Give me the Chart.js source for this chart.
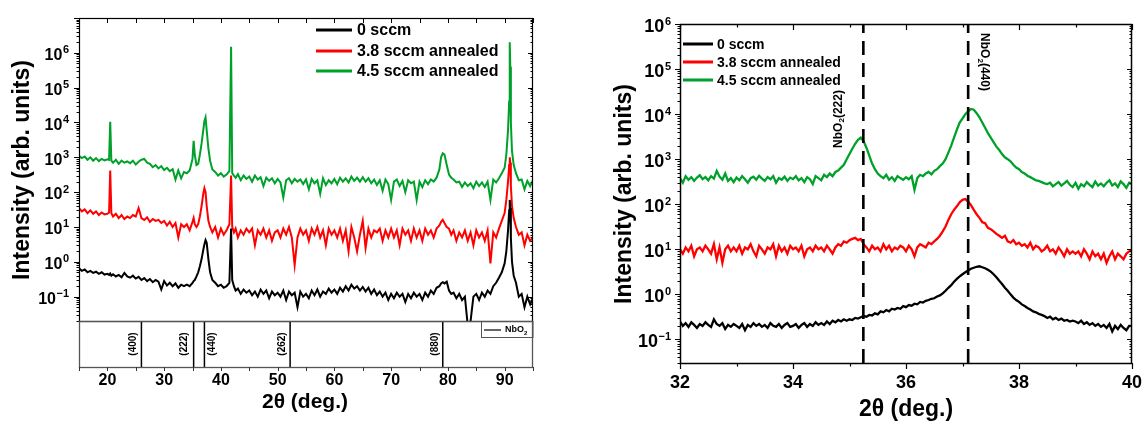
<!DOCTYPE html>
<html><head><meta charset="utf-8">
<script src="https://cdn.jsdelivr.net/npm/chart.js@4/dist/chart.umd.min.js"></script>
<style>
html,body{margin:0;padding:0;background:#fff;width:1142px;height:421px;overflow:hidden}
canvas{position:absolute;left:0;top:0}
</style></head>
<body>
<canvas id="c1" width="1142" height="421"></canvas>
<canvas id="c2" width="1142" height="421"></canvas>
<canvas id="c3" width="1142" height="421"></canvas>
<script>
// ---------------- DATA ----------------
const seriesNames = ['0 sccm', '3.8 sccm annealed', '4.5 sccm annealed'];

// Left panel (wide scan), 2θ in degrees
const xsL = [
15,15.5,16,16.5,17,17.5,18,18.5,19,19.5,
20,20.3,20.5,20.7,21,21.5,22,22.5,23,23.5,
24,24.5,25,25.5,26,26.5,27,27.5,28,28.5,
29,29.5,30,30.5,31,31.5,32,32.5,33,33.5,
34,34.5,35,35.2,35.4,35.7,36,36.3,36.6,36.9,
37.1,37.3,37.5,37.8,38.1,38.5,39,39.5,40,40.5,
41,41.5,41.8,42,42.3,42.6,43,43.5,44,44.5,
45,45.5,46,46.5,47,47.5,48,48.5,49,49.5,
50,50.5,51,51.5,52,52.5,53,53.5,54,54.5,
55,55.5,56,56.5,57,57.5,58,58.5,59,59.5,
60,60.5,61,61.5,62,62.5,63,63.5,64,64.5,
65,65.5,66,66.5,67,67.5,68,68.5,69,69.5,
70,70.5,71,71.5,72,72.5,73,73.5,74,74.5,
75,75.5,76,76.5,77,77.5,78,78.5,78.8,79.1,
79.4,79.8,80.2,80.6,81,81.5,82,82.5,83,83.5,
84,84.5,85,85.5,86,86.5,87,87.5,88,88.5,
89,89.5,90,90.3,90.6,90.8,90.9,91,91.1,91.3,
91.6,92,92.5,93,93.5,94,94.5,95];

const green45L = [
1100,950,1050,850,1000,800,950,780,900,820,
880,850,10500,800,700,850,650,800,700,760,
680,800,620,750,850,900,700,650,520,600,
480,560,430,500,400,460,230,420,250,380,
350,420,900,3000,1200,600,650,1200,2500,6000,
11000,14000,6000,1800,800,450,380,300,350,280,
320,400,1500000,350,300,260,330,220,300,240,
280,200,300,230,270,150,260,210,250,180,
240,190,70,220,250,180,240,200,230,170,
230,120,240,180,220,90,250,160,220,180,
240,170,260,200,250,190,280,210,260,200,
270,200,250,180,230,160,220,110,230,170,
60,200,230,150,210,100,220,180,200,60,
200,140,220,170,230,200,260,450,1000,1300,
1200,600,320,260,230,190,200,140,190,150,
180,130,200,150,190,140,200,60,230,190,
250,350,500,1200,6000,40000,2000000,400000,10000,1500,
600,350,220,230,120,210,150,220];

const red38L = [
35,28,32,25,30,24,28,22,26,23,
24,26,420,25,20,24,18,22,17,20,
18,22,20,35,18,16,19,14,17,15,
16,13,15,11,14,10,13,5,12,10,
12,8,14,18,12,10,12,20,40,90,
130,100,40,15,10,7,10,5,9,6,
8,12,300,10,7,9,5,8,6,9,
7,9,3,8,6,9,5,8,4,7,
8,5,9,6,10,5,0.8,5,9,6,
8,4,9,6,10,5,8,3,9,6,
8,5,9,4,8,2,10,5,2,6,
15,2.5,9,5,8,7,9,4,8,5,
9,5,8,3,9,6,8,4,9,5,
8,4,9,6,8,5,9,11,14,16,
13,10,9,6,8,4,7,5,8,4,
7,3,8,5,7,4,8,0.9,7,5,
9,15,25,60,200,600,1000,700,150,40,
18,10,6,7,3,6,4,5];

const black0L = [
0.65,0.55,0.6,0.5,0.55,0.48,0.52,0.45,0.5,0.43,
0.45,0.42,0.46,0.4,0.44,0.38,0.42,0.36,0.48,0.38,
0.35,0.4,0.33,0.37,0.3,0.34,0.28,0.32,0.26,0.3,
0.27,0.16,0.28,0.21,0.25,0.2,0.24,0.18,0.22,0.2,
0.22,0.2,0.25,0.28,0.3,0.38,0.5,0.75,1.2,2.2,
3.2,4.2,3.5,1.2,0.5,0.3,0.25,0.2,0.22,0.18,
0.2,0.25,9,0.3,0.2,0.15,0.17,0.12,0.16,0.13,
0.15,0.11,0.14,0.1,0.16,0.12,0.15,0.09,0.14,0.11,
0.13,0.1,0.15,0.08,0.14,0.11,0.13,0.05,0.14,0.1,
0.12,0.09,0.15,0.11,0.16,0.1,0.14,0.12,0.17,0.13,
0.16,0.12,0.18,0.14,0.2,0.15,0.22,0.17,0.2,0.15,
0.19,0.14,0.18,0.12,0.16,0.11,0.14,0.1,0.13,0.08,
0.12,0.09,0.13,0.1,0.12,0.07,0.12,0.09,0.13,0.1,
0.12,0.08,0.13,0.1,0.15,0.12,0.18,0.2,0.24,0.26,
0.24,0.27,0.15,0.12,0.13,0.09,0.12,0.08,0.1,0.015,
0.02,0.1,0.12,0.08,0.13,0.1,0.15,0.12,0.2,0.25,
0.35,0.5,0.9,2,8,30,60,35,5,1,
0.4,0.25,0.1,0.12,0.05,0.1,0.06,0.09];

// NbO2 reference pattern (lower strip of the left panel)
const stickPos = [26.0, 35.2, 37.1, 52.2, 79.1];
const stickLabels = ['(400)', '(222)', '(440)', '(262)', '(880)'];

// Right panel (zoomed scan)
const xsR = [
32,32.05,32.1,32.15,32.2,32.25,32.3,32.35,32.4,32.45,
32.5,32.55,32.6,32.65,32.7,32.75,32.8,32.85,32.9,32.95,
33,33.05,33.1,33.15,33.2,33.25,33.3,33.35,33.4,33.45,
33.5,33.55,33.6,33.65,33.7,33.75,33.8,33.85,33.9,33.95,
34,34.05,34.1,34.15,34.2,34.25,34.3,34.35,34.4,34.45,
34.5,34.55,34.6,34.65,34.7,34.75,34.8,34.85,34.9,34.95,
35,35.05,35.1,35.15,35.2,35.25,35.3,35.35,35.4,35.45,
35.5,35.55,35.6,35.65,35.7,35.75,35.8,35.85,35.9,35.95,
36,36.05,36.1,36.15,36.2,36.25,36.3,36.35,36.4,36.45,
36.5,36.55,36.6,36.65,36.7,36.75,36.8,36.85,36.9,36.95,
37,37.05,37.1,37.15,37.2,37.25,37.3,37.35,37.4,37.45,
37.5,37.55,37.6,37.65,37.7,37.75,37.8,37.85,37.9,37.95,
38,38.05,38.1,38.15,38.2,38.25,38.3,38.35,38.4,38.45,
38.5,38.55,38.6,38.65,38.7,38.75,38.8,38.85,38.9,38.95,
39,39.05,39.1,39.15,39.2,39.25,39.3,39.35,39.4,39.45,
39.5,39.55,39.6,39.65,39.7,39.75,39.8,39.85,39.9,39.95,
40];

const green45R = [
380,300,420,350,400,330,390,440,360,400,
340,420,370,550,410,350,480,330,380,310,
390,340,420,360,300,380,410,350,430,370,
330,400,360,420,300,380,350,410,330,390,
360,420,340,380,310,400,360,280,420,380,
340,450,400,480,420,520,560,650,750,1000,
1300,1700,2200,2700,3000,2500,1800,1200,800,600,
480,420,380,450,350,400,330,420,380,350,
400,360,420,210,380,450,420,480,520,460,
550,600,700,800,1000,1400,2000,3000,4500,6500,
8000,10000,11500,13000,12500,10500,8500,6500,5000,3800,
3000,2400,1900,1600,1300,1100,1000,900,750,650,
600,520,480,430,400,370,340,330,310,290,
280,300,250,280,310,260,290,330,270,240,
300,220,280,250,310,270,240,320,260,290,
250,300,340,260,290,240,320,280,230,300,
280];

const red38R = [
10,8,11,9,12,7,10,11,9,12,
10,8,13,6,11,5,10,12,9,11,
9,12,8,11,10,13,9,7,12,10,
8,11,10,13,7,12,9,11,8,12,
10,11,9,12,7,10,11,9,12,10,
11,9,12,10,8,11,13,12,15,14,
16,17,18,16,17,13,11,9,12,10,
11,9,13,10,12,9,11,10,12,11,
9,12,10,7,11,13,12,11,14,13,
15,17,20,25,32,45,60,75,90,110,
125,130,115,95,75,60,50,40,38,30,
28,25,22,20,18,20,15,14,16,13,
14,12,13,11,14,10,12,11,9,10,
12,9,10,8,11,9,7,10,8,9,
8,9,7,10,8,6,9,7,8,6,
8,5,7,9,6,8,7,6,8,9,
10];

const black0R = [
0.25,0.2,0.23,0.19,0.24,0.21,0.18,0.22,0.2,0.24,
0.21,0.19,0.28,0.22,0.2,0.23,0.17,0.21,0.19,0.22,
0.2,0.18,0.22,0.16,0.21,0.19,0.23,0.2,0.22,0.19,
0.21,0.18,0.23,0.2,0.19,0.22,0.18,0.21,0.23,0.19,
0.2,0.22,0.18,0.21,0.23,0.19,0.22,0.2,0.24,0.21,
0.23,0.21,0.25,0.22,0.26,0.24,0.27,0.25,0.28,0.26,
0.28,0.27,0.3,0.29,0.31,0.33,0.32,0.35,0.34,0.38,
0.36,0.42,0.4,0.45,0.42,0.48,0.46,0.5,0.48,0.55,
0.52,0.58,0.56,0.62,0.6,0.68,0.66,0.72,0.75,0.8,
0.82,0.9,0.95,1.05,1.2,1.4,1.6,1.9,2.2,2.5,
2.8,3.1,3.4,3.7,3.9,4.1,4.2,4.0,3.8,3.5,
3.2,2.8,2.4,2.0,1.7,1.4,1.2,1.0,0.85,0.75,
0.68,0.6,0.55,0.5,0.46,0.42,0.4,0.37,0.35,0.33,
0.3,0.32,0.28,0.3,0.27,0.29,0.26,0.27,0.25,0.26,
0.25,0.23,0.26,0.22,0.24,0.21,0.23,0.2,0.22,0.19,
0.21,0.18,0.22,0.15,0.2,0.17,0.21,0.18,0.16,0.2,
0.2];

const dashPos = [35.245, 37.1];
const dashLabels = [['NbO', '2', '(222)'], ['NbO', '2', '(440)']];

// tick labels
const xTickLabelsL = [20, 30, 40, 50, 60, 70, 80, 90];
const xTickMarksL = [15, 20, 25, 30, 35, 40, 45, 50, 55, 60, 65, 70, 75, 80, 85, 90, 95];
const xTickLabelsR = [32, 34, 36, 38, 40];
const xTickMarksR = [32, 33, 34, 35, 36, 37, 38, 39, 40];
const yExpL = [-1, 0, 1, 2, 3, 4, 5, 6];
const yExpR = [-1, 0, 1, 2, 3, 4, 5, 6];

// ---------------- STYLE / HELPERS ----------------
const FF = '"Liberation Sans", Arial, Helvetica, sans-serif';
const COLORS = ['#000000', '#ff0000', '#00a12a'];
const STICK_LABEL_DX = [-8, -9, 8, -8, -8];

function ds(label, xs, ys, color, w, extra) {
  return Object.assign({
    label, data: xs.map((x, i) => ({x: x, y: ys[i]})),
    borderColor: color, backgroundColor: color, borderWidth: w,
    pointRadius: 0, tension: 0, fill: false
  }, extra || {});
}
function logTickList(min, max) {
  const out = [];
  for (let e = -3; e <= 7; e++) for (let m = 1; m <= 9; m++) {
    const v = m * Math.pow(10, e);
    if (v >= min * 0.999 && v <= max * 1.001) out.push({v, major: m === 1});
  }
  return out;
}
function yTicks(ctx, y, a, min, max, maj, mnr) {
  ctx.beginPath();
  for (const t of logTickList(min, max)) {
    const py = Math.round(y.getPixelForValue(t.v)) + 0.5;
    const L = t.major ? maj : mnr;
    ctx.moveTo(a.left, py); ctx.lineTo(a.left - L, py);
    ctx.moveTo(a.right, py); ctx.lineTo(a.right - L, py);
  }
  ctx.stroke();
}
function powLabel(ctx, exp, xr, y, fs, ss) {
  const sup = String(exp).replace('-', '\u2212');
  ctx.font = 'bold ' + ss + 'px ' + FF; const sw = ctx.measureText(sup).width;
  ctx.font = 'bold ' + fs + 'px ' + FF; const bw = ctx.measureText('10').width;
  ctx.textAlign = 'left'; ctx.textBaseline = 'alphabetic';
  const x0 = xr - sw - bw - 0.5;
  ctx.fillText('10', x0, y + 1.5 + fs * 0.36);
  ctx.font = 'bold ' + ss + 'px ' + FF;
  ctx.fillText(sup, x0 + bw + 0.5, y + 0.5);
}
function chemLabel(ctx, parts, cx, cy, rot, fs) {
  ctx.save();
  ctx.translate(cx, cy); ctx.rotate(rot);
  const sub = Math.round(fs * 0.7);
  ctx.font = 'bold ' + fs + 'px ' + FF; const w1 = ctx.measureText(parts[0]).width;
  const w3 = ctx.measureText(parts[2]).width;
  ctx.font = 'bold ' + sub + 'px ' + FF; const w2 = ctx.measureText(parts[1]).width;
  const tot = w1 + w2 + w3;
  let x = -tot / 2;
  ctx.textAlign = 'left'; ctx.textBaseline = 'middle';
  ctx.font = 'bold ' + fs + 'px ' + FF; ctx.fillText(parts[0], x, 0); x += w1;
  ctx.font = 'bold ' + sub + 'px ' + FF; ctx.fillText(parts[1], x, fs * 0.3); x += w2;
  ctx.font = 'bold ' + fs + 'px ' + FF; ctx.fillText(parts[2], x, 0);
  ctx.restore();
}
function vText(ctx, txt, cx, cy, fs) {
  ctx.save(); ctx.translate(cx, cy); ctx.rotate(-Math.PI / 2);
  ctx.font = 'bold ' + fs + 'px ' + FF; ctx.textAlign = 'center'; ctx.textBaseline = 'middle';
  ctx.fillText(txt, 0, 0); ctx.restore();
}
function legend(ctx, x0, x1, tx, ys, fs, lw) {
  [0, 1, 2].forEach((k, i) => {
    ctx.strokeStyle = COLORS[k]; ctx.lineWidth = lw;
    ctx.beginPath(); ctx.moveTo(x0, ys[i]); ctx.lineTo(x1, ys[i]); ctx.stroke();
    ctx.fillStyle = '#000'; ctx.font = 'bold ' + fs + 'px ' + FF;
    ctx.textAlign = 'left'; ctx.textBaseline = 'middle';
    ctx.fillText(seriesNames[k], tx, ys[i] + 1);
  });
}
const baseOpts = (pad, xmin, xmax, ytype, ymin, ymax) => ({
  responsive: false, animation: false, devicePixelRatio: 1,
  layout: {padding: pad},
  plugins: {legend: {display: false}, tooltip: {enabled: false}, title: {display: false}},
  scales: {
    x: {type: 'linear', min: xmin, max: xmax, display: false},
    y: {type: ytype, min: ymin, max: ymax, display: false}
  }
});

// ---------------- LEFT MAIN PANEL ----------------
const YL_MIN = 0.02, YL_MAX = 1e7;
new Chart(document.getElementById('c1'), {
  type: 'line',
  data: {datasets: [
    ds(seriesNames[0], xsL, black0L, COLORS[0], 2),
    ds(seriesNames[1], xsL, red38L, COLORS[1], 2),
    ds(seriesNames[2], xsL, green45L, COLORS[2], 2)
  ]},
  options: baseOpts({left: 79, top: 18, right: 609, bottom: 100}, 15, 95, 'logarithmic', YL_MIN, YL_MAX),
  plugins: [{
    id: 'decoL',
    afterDraw(chart) {
      const {ctx, chartArea: a, scales: {x, y}} = chart;
      ctx.save();
      ctx.strokeStyle = '#000'; ctx.lineWidth = 1.2;
      ctx.strokeRect(a.left + 0.5, a.top + 0.5, a.right - a.left - 1, a.bottom - a.top);
      ctx.lineWidth = 1;
      yTicks(ctx, y, a, YL_MIN, YL_MAX, 5, 2.5);
      ctx.beginPath();
      for (const v of xTickMarksL) {
        const px = Math.round(x.getPixelForValue(v)) + 0.5;
        ctx.moveTo(px, a.top); ctx.lineTo(px, a.top + 5);
      }
      ctx.stroke();
      ctx.fillStyle = '#000';
      for (const e of yExpL) powLabel(ctx, e, 69, y.getPixelForValue(Math.pow(10, e)), 16, 11);
      vText(ctx, 'Intensity (arb. units)', 23, 170, 23);
      legend(ctx, 316, 352, 357, [30, 51, 71], 16, 3);
      ctx.restore();
    }
  }]
});

// ---------------- LEFT REFERENCE STRIP ----------------
new Chart(document.getElementById('c2'), {
  type: 'line',
  data: {datasets: stickPos.map((p, i) => ({
    label: 'NbO2 ' + stickLabels[i], data: [{x: p, y: 0}, {x: p, y: 1}],
    borderColor: '#000', borderWidth: 1.5, pointRadius: 0, fill: false
  }))},
  options: baseOpts({left: 79, top: 321, right: 609, bottom: 54}, 15, 95, 'linear', 0, 1),
  plugins: [{
    id: 'decoStrip',
    afterDraw(chart) {
      const {ctx, chartArea: a, scales: {x}} = chart;
      ctx.save();
      ctx.strokeStyle = '#555'; ctx.lineWidth = 1.3;
      ctx.strokeRect(a.left + 0.5, a.top + 0.5, a.right - a.left - 1, a.bottom - a.top);
      ctx.strokeStyle = '#333'; ctx.lineWidth = 1;
      ctx.beginPath();
      for (const v of xTickMarksL) {
        const px = Math.round(x.getPixelForValue(v)) + 0.5;
        ctx.moveTo(px, a.bottom); ctx.lineTo(px, a.bottom + 4);
      }
      ctx.stroke();
      ctx.fillStyle = '#000';
      stickPos.forEach((p, i) => {
        const px = x.getPixelForValue(p);
        vText(ctx, stickLabels[i], px + STICK_LABEL_DX[i], 344, 10);
      });
      ctx.strokeStyle = '#555'; ctx.lineWidth = 1;
      ctx.strokeRect(481.5, a.top + 0.5, a.right - 481.5, 16);
      ctx.strokeStyle = '#000'; ctx.lineWidth = 1.2;
      ctx.beginPath(); ctx.moveTo(484, a.top + 9); ctx.lineTo(501, a.top + 9); ctx.stroke();
      ctx.font = 'bold 9px ' + FF; ctx.textAlign = 'left'; ctx.textBaseline = 'middle';
      ctx.fillText('NbO', 505, a.top + 9);
      const w = ctx.measureText('NbO').width;
      ctx.font = 'bold 6px ' + FF; ctx.fillText('2', 505 + w, a.top + 12);
      ctx.font = 'bold 16px ' + FF; ctx.textAlign = 'center'; ctx.textBaseline = 'middle';
      for (const v of xTickLabelsL) ctx.fillText(String(v), x.getPixelForValue(v), 381);
      ctx.font = 'bold 21px ' + FF;
      ctx.fillText('2\u03b8 (deg.)', 305, 402);
      ctx.restore();
    }
  }]
});

// ---------------- RIGHT PANEL ----------------
const YR_MIN = 0.03, YR_MAX = 1e6;
new Chart(document.getElementById('c3'), {
  type: 'line',
  data: {datasets: [
    ...dashPos.map((p, i) => ({
      label: 'NbO2 line ' + (i + 1), data: [{x: p, y: YR_MIN}, {x: p, y: YR_MAX}],
      borderColor: '#000', borderWidth: 2.6, borderDash: [14, 8], pointRadius: 0, fill: false
    })),
    ds(seriesNames[0], xsR, black0R, COLORS[0], 2.3),
    ds(seriesNames[1], xsR, red38R, COLORS[1], 2.3),
    ds(seriesNames[2], xsR, green45R, COLORS[2], 2.3)
  ]},
  options: baseOpts({left: 680, top: 24, right: 10, bottom: 58}, 32, 40, 'logarithmic', YR_MIN, YR_MAX),
  plugins: [{
    id: 'decoR',
    afterDraw(chart) {
      const {ctx, chartArea: a, scales: {x, y}} = chart;
      ctx.save();
      ctx.strokeStyle = '#000'; ctx.lineWidth = 1.5;
      ctx.strokeRect(a.left + 0.5, a.top + 0.5, a.right - a.left - 1, a.bottom - a.top);
      ctx.lineWidth = 1.2;
      yTicks(ctx, y, a, YR_MIN, YR_MAX, 5, 2.5);
      ctx.beginPath();
      for (const v of xTickMarksR) {
        const px = Math.round(x.getPixelForValue(v)) + 0.5;
        const L = (v % 2 === 0) ? 6 : 3.5;
        ctx.moveTo(px, a.bottom); ctx.lineTo(px, a.bottom + L);
        ctx.moveTo(px, a.top); ctx.lineTo(px, a.top + L);
      }
      ctx.stroke();
      ctx.fillStyle = '#000';
      for (const e of yExpR) powLabel(ctx, e, 671, y.getPixelForValue(Math.pow(10, e)), 18, 11);
      ctx.font = 'bold 18px ' + FF; ctx.textAlign = 'center'; ctx.textBaseline = 'middle';
      for (const v of xTickLabelsR) ctx.fillText(String(v), x.getPixelForValue(v), 383);
      ctx.font = 'bold 23px ' + FF;
      ctx.fillText('2\u03b8 (deg.)', 906, 410);
      vText(ctx, 'Intensity (arb. units)', 625, 194, 23);
      legend(ctx, 683, 713, 717, [44, 62, 80], 14, 3);
      chemLabel(ctx, dashLabels[0], x.getPixelForValue(dashPos[0]) - 25, 119, -Math.PI / 2, 12);
      chemLabel(ctx, dashLabels[1], x.getPixelForValue(dashPos[1]) + 16, 62, Math.PI / 2, 12);
      ctx.restore();
    }
  }]
});
</script>
</body></html>
